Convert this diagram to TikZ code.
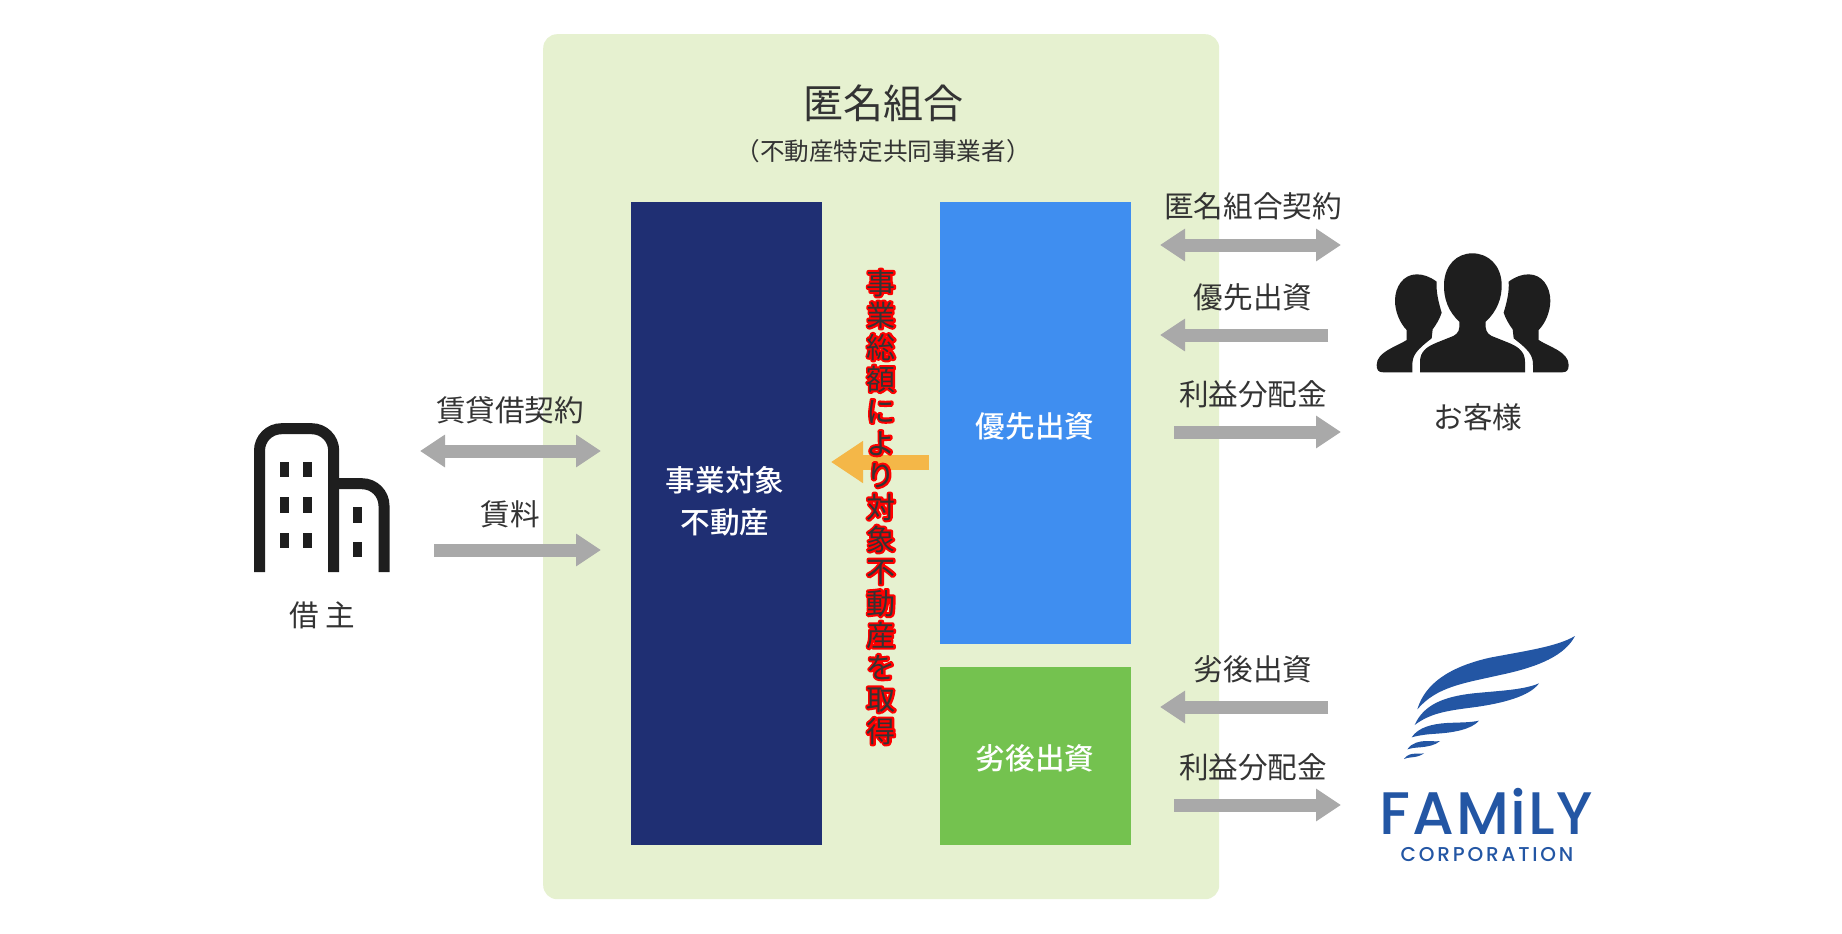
\documentclass[tikz,border=0pt]{standalone}
\usepackage{fontspec}
\usetikzlibrary{arrows.meta}
\setmainfont{Noto Sans CJK JP}
\newfontfamily\medfont{Noto Sans CJK JP Medium}
\newfontfamily\logofont{Poppins Medium}
\definecolor{panelc}{HTML}{E6F1D0}
\definecolor{navyc}{HTML}{1F2F73}
\definecolor{bluec}{HTML}{3F8EF0}
\definecolor{greenc}{HTML}{74C24F}
\definecolor{greyc}{HTML}{A9A9A9}
\definecolor{orangec}{HTML}{F4B748}
\definecolor{inkc}{HTML}{333333}
\definecolor{iconc}{HTML}{1E1E1E}
\definecolor{logoc}{HTML}{2356A4}
\newcommand{\fsz}[2]{\fontsize{#1}{#2}\selectfont}
\newcommand{\vlabel}{事\\業\\総\\額\\に\\よ\\り\\対\\象\\不\\動\\産\\を\\取\\得}
\tikzset{
 px/.style={x=1pt,y=-1pt},
 lab/.style={text=inkc,inner sep=0pt,font=\fsz{29.6}{32}},
 boxlab/.style={text=white,inner sep=0pt,align=center,font=\medfont\fsz{29.6}{42}},
 both/.style={line width=13pt,draw=greyc,{Triangle[length=25pt,width=31pt]}-{Triangle[length=25pt,width=31pt]}},
 one/.style={line width=13pt,draw=greyc,-{Triangle[length=25pt,width=31pt]}},
 pick/.style={line width=15pt,draw=orangec,-{Triangle[length=32pt,width=40pt]}},
 icon/.style={line width=11pt,draw=iconc,rounded corners=22pt},
 win/.style={fill=iconc},
 feather/.style={fill=logoc},
}
\begin{document}
\begin{tikzpicture}[px]
\useasboundingbox (0,0) rectangle (1842,934);
\fill[white] (0,0) rectangle (1842,934);
\node[fill=panelc,rounded corners=14pt,minimum width=676pt,minimum height=865pt,inner sep=0pt,anchor=north west] (panel) at (543,34) {};
\node[fill=navyc,minimum width=191pt,minimum height=643pt,inner sep=0pt,anchor=north west] (navy) at (631,202) {};
\node[fill=bluec,minimum width=191pt,minimum height=442pt,inner sep=0pt,anchor=north west] (blue) at (940,202) {};
\node[fill=greenc,minimum width=191pt,minimum height=178pt,inner sep=0pt,anchor=north west] (green) at (940,667) {};
\node[boxlab] (navylab) at (725,501.5) {事業対象\\不動産};
\node[boxlab] (bluelab) at (1035,426.5) {優先出資};
\node[boxlab] (greenlab) at (1035,758) {劣後出資};
\node[lab,font=\fsz{40}{44}] (title) at (883,103.5) {匿名組合};
\node[lab,font=\fsz{24.6}{28}] (sub) at (883,151) {（不動産特定共同事業者）};
% arrows
\coordinate (a1l) at (420,451); \coordinate (a1r) at (601,451);
\coordinate (a2l) at (434,550); \coordinate (a2r) at (601,550);
\coordinate (b1l) at (1160,245); \coordinate (b1r) at (1341,245);
\coordinate (b2l) at (1160,335); \coordinate (b2r) at (1328,335);
\coordinate (b3l) at (1174,432); \coordinate (b3r) at (1341,432);
\coordinate (c1l) at (1160,707); \coordinate (c1r) at (1328,707);
\coordinate (c2l) at (1174,805); \coordinate (c2r) at (1341,805);
\coordinate (pr) at (929,462); \coordinate (pl) at (831,462);
\draw[both] (a1l) -- (a1r);
\draw[one] (a2l) -- (a2r);
\draw[both] (b1l) -- (b1r);
\draw[one] (b2r) -- (b2l);
\draw[one] (b3l) -- (b3r);
\draw[one] (c1l |- c1r) (c1r) -- (c1l);
\draw[one] (c2l) -- (c2r);
\draw[pick] (pr) -- (pl);
\node[lab] (l1) at (510,410) {賃貸借契約};
\node[lab] (l2) at (510,514) {賃料};
\node[lab] (l3) at (322,615) {借 主};
\node[lab] (l4) at (1253,206) {匿名組合契約};
\node[lab] (l5) at (1253,297) {優先出資};
\node[lab] (l6) at (1253,394) {利益分配金};
\node[lab] (l7) at (1253,669) {劣後出資};
\node[lab] (l8) at (1253,767) {利益分配金};
\node[lab] (l9) at (1478,417) {お客様};
% vertical text with a white halo (red only to verify it renders)
\node[inner sep=0pt,align=center,text=white,font=\fsz{29}{32}] (vhalo) at (881,507) {\special{pdf:code q 1 0 0 RG 4 w 1 j 2 Tr}\vlabel\special{pdf:code Q}};
\node[inner sep=0pt,align=center,text=inkc,font=\fsz{29}{32}] (vtext) at (881,507) {\vlabel};
% building icon
\draw[icon] (259.5,572) -- (259.5,428.7) -- (333.7,428.7) -- (333.7,572);
\draw[icon] (333.7,483.7) -- (384,483.7) -- (384,572);
\foreach \wx in {280,302.7}\foreach \wy in {461.7,497.3,533}{\fill[win] (\wx,\wy) rectangle ++(9.3,15.3);}
\foreach \wy in {507.3,541.7}{\fill[win] (353,\wy) rectangle ++(9.3,15.3);}
% people icon
\begin{scope}[shift={(1140pt,-170pt)},x=0.33333pt,y=-0.33333pt]
\fill[iconc] (840,607) -- (840,575) .. controls (840,545) and (860,530) .. (890,518) -- (940,498) .. controls (955,490) and (960,480) .. (958,455) .. controls (925,425) and (910,385) .. (912,340) .. controls (915,285) and (950,250) .. (997,250) .. controls (1045,250) and (1082,285) .. (1085,340) .. controls (1087,385) and (1070,425) .. (1037,455) .. controls (1035,480) and (1040,490) .. (1055,498) -- (1105,518) .. controls (1135,530) and (1155,545) .. (1155,575) -- (1155,607) -- cycle;
\foreach \m/\o in {1/0,-1/1996}{
\fill[iconc] ({\o+\m*817},607) -- ({\o+\m*817},585) .. controls ({\o+\m*817},555) and ({\o+\m*830},540) .. ({\o+\m*875},505) -- ({\o+\m*878},478) .. controls ({\o+\m*888},465) and ({\o+\m*900},445) .. ({\o+\m*905},428) .. controls ({\o+\m*895},395) and ({\o+\m*888},365) .. ({\o+\m*890},335) .. controls ({\o+\m*870},320) and ({\o+\m*850},313) .. ({\o+\m*830},313) .. controls ({\o+\m*790},313) and ({\o+\m*765},350) .. ({\o+\m*765},392) .. controls ({\o+\m*765},425) and ({\o+\m*780},460) .. ({\o+\m*800},480) -- ({\o+\m*800},510) .. controls ({\o+\m*770},530) and ({\o+\m*710},545) .. ({\o+\m*710},585) .. controls ({\o+\m*710},600) and ({\o+\m*715},607) .. ({\o+\m*730},607) -- cycle;
}
\end{scope}
% logo
\begin{scope}[shift={(1340pt,-620pt)},x=0.33333pt,y=-0.33333pt]
\fill[feather] (705,48) .. controls (675,105) and (600,140) .. (480,165) .. controls (370,190) and (290,200) .. (232,268) .. controls (255,190) and (330,140) .. (450,113) .. controls (560,92) and (650,80) .. (705,48) -- cycle;
\fill[feather] (597,190) .. controls (570,228) and (490,250) .. (400,262) .. controls (320,272) and (270,280) .. (224,315) .. controls (250,255) and (310,230) .. (400,220) .. controls (480,212) and (550,210) .. (597,190) -- cycle;
\fill[feather] (417,302) .. controls (395,328) and (340,338) .. (290,341) .. controls (260,343) and (240,345) .. (215,352) .. controls (235,322) and (275,312) .. (320,309) .. controls (360,307) and (390,308) .. (417,302) -- cycle;
\fill[feather] (300,363) .. controls (285,377) and (260,380) .. (240,382) .. controls (225,383) and (215,384) .. (202,388) .. controls (215,368) and (240,363) .. (260,363) .. controls (275,363) and (290,365) .. (300,363) -- cycle;
\fill[feather] (252,400) .. controls (240,409) and (225,411) .. (215,412) .. controls (205,413) and (198,414) .. (192,417) .. controls (200,404) and (215,401) .. (225,401) .. controls (235,401) and (245,402) .. (252,400) -- cycle;
\end{scope}
\node[inner sep=0pt,text=logoc,font=\logofont\fsz{60}{60}] (fam) at (1486.5,811) {\addfontfeature{LetterSpace=3}FAMiLY};
\node[inner sep=0pt,text=logoc,font=\logofont\fsz{20}{22}] (corp) at (1487,855) {\addfontfeature{LetterSpace=14}CORPORATION};
\end{tikzpicture}
\end{document}
